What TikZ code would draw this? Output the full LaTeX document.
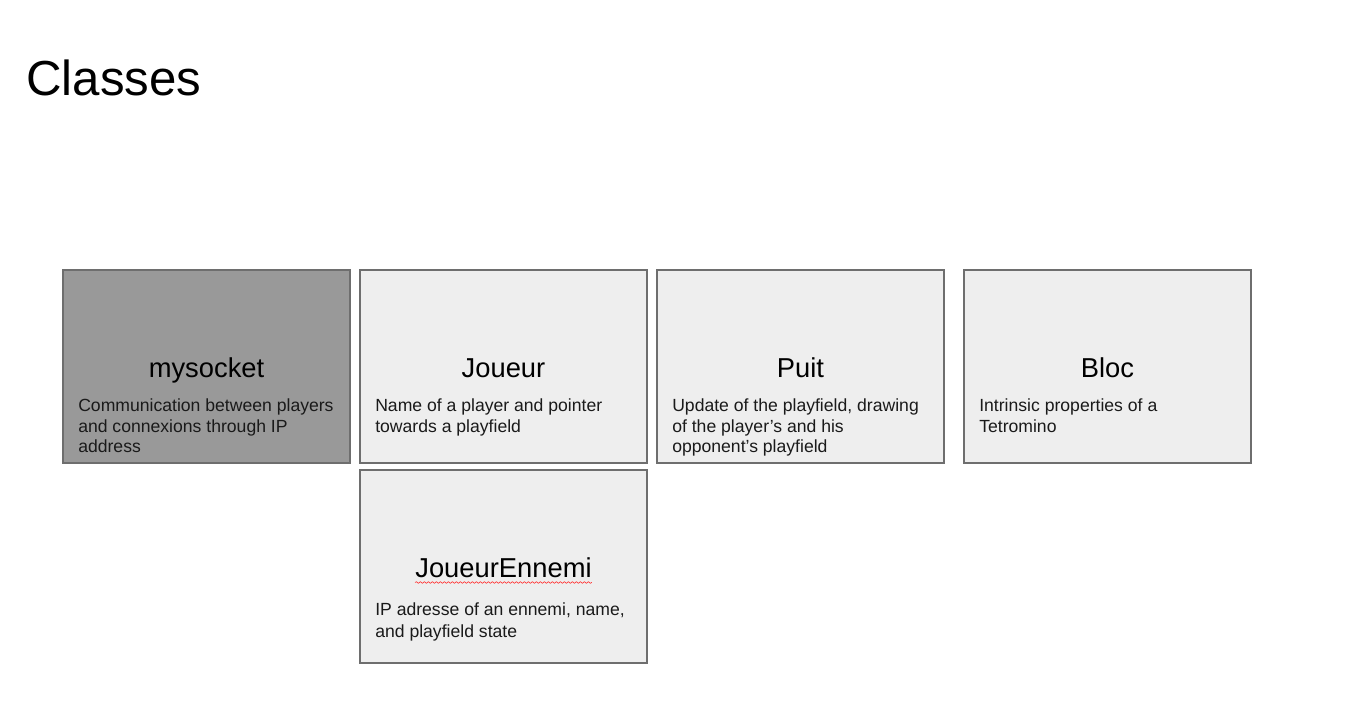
\documentclass[tikz,border=0pt]{standalone}
\usepackage{fontspec}
\setmainfont{Liberation Sans}
\usepackage{xcolor}
\usepackage{tikz}
\usetikzlibrary{positioning,decorations.pathmorphing}

\definecolor{boxgray}{HTML}{EEEEEE}
\definecolor{boxdark}{HTML}{999999}
\definecolor{boxline}{HTML}{6E6E6E}
\definecolor{txtgray}{HTML}{1A1A1A}

\begin{document}
\begin{tikzpicture}[
    x=0.75pt, y=-0.75pt,
    cls/.style={draw=boxline, line width=0.9pt, fill=boxgray, rectangle,
      minimum width=215.25pt, minimum height=144.75pt, inner sep=0pt,
      outer sep=0pt},
    clsname/.style={font=\fontsize{20.5}{24.6}\selectfont, anchor=base, inner sep=0pt},
    clsdesc/.style={font=\fontsize{13.2}{15.5}\selectfont, anchor=north west,
      align=left, inner sep=0pt, text=txtgray}
  ]
  \useasboundingbox (0,0) rectangle (1358,721);

  % ══ TITLE ═════════════════════════════════════════════════════════════════
  \node[font=\fontsize{36.9}{44}\selectfont, anchor=base west, inner sep=0pt]
    (title) at (26,95) {Classes};

  % ══ ROW 1 ═════════════════════════════════════════════════════════════════
  % mysocket (dark)
  \node[cls, fill=boxdark, anchor=north west] (mysocket) at (63,270) {};
  \node[clsname] (mysocketname) at ([yshift=-8pt]mysocket.center) {mysocket};
  \node[clsdesc] (mysocketdesc) at ([xshift=11.25pt, yshift=-24pt]mysocket.west)
    {Communication between players\\and connexions through IP\\address};

  % Joueur
  \node[cls, right=7.5pt of mysocket] (joueur) {};
  \node[clsname] (joueurname) at ([yshift=-8pt]joueur.center) {Joueur};
  \node[clsdesc] (joueurdesc) at ([xshift=11.25pt, yshift=-24pt]joueur.west)
    {Name of a player and pointer\\towards a playfield};

  % Puit
  \node[cls, right=7.5pt of joueur] (puit) {};
  \node[clsname] (puitname) at ([yshift=-8pt]puit.center) {Puit};
  \node[clsdesc] (puitdesc) at ([xshift=11.25pt, yshift=-24pt]puit.west)
    {Update of the playfield, drawing\\of the player’s and his\\opponent’s playfield};

  % Bloc
  \node[cls, right=15pt of puit] (bloc) {};
  \node[clsname] (blocname) at ([yshift=-8pt]bloc.center) {Bloc};
  \node[clsdesc] (blocdesc) at ([xshift=11.25pt, yshift=-24pt]bloc.west)
    {Intrinsic properties of a\\Tetromino};

  % ══ ROW 2 ═════════════════════════════════════════════════════════════════
  % JoueurEnnemi, under Joueur
  \node[cls, below=5.25pt of joueur] (ennemi) {};
  \node[clsname] (enneminame) at ([yshift=-8pt]ennemi.center) {JoueurEnnemi};
  \node[clsdesc, font=\fontsize{13.2}{16.5}\selectfont] (ennemidesc)
    at ([xshift=11.25pt, yshift=-27.3pt]ennemi.west)
    {IP adresse of an ennemi, name,\\and playfield state};
  % spell-check squiggle
  \draw[red!80, line width=0.5pt, decorate,
        decoration={snake, amplitude=0.6pt, segment length=3pt}]
    ([yshift=-4pt]enneminame.base west) -- ([yshift=-4pt]enneminame.base east);

\end{tikzpicture}
\end{document}
